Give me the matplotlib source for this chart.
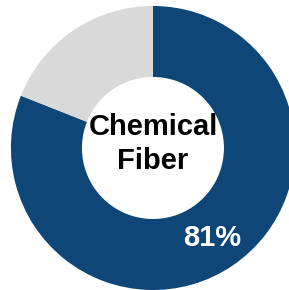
import matplotlib
matplotlib.use('Agg')
import matplotlib.pyplot as plt

labels = ['Chemical Fiber', 'Other']
shares = [81, 19]
colors = ['#0D4677', '#D9D9D9']

plt.rcParams['font.family'] = ['Liberation Sans', 'DejaVu Sans']

fig = plt.figure(figsize=(2.89, 2.90), dpi=100)
ax = fig.add_axes([0, 0, 1, 1])

ax.pie(shares, colors=colors, startangle=90, counterclock=False,
       radius=1.0, wedgeprops=dict(width=0.5, edgecolor='none'))

ax.text(0.0, 0.15, 'Chemical', ha='center', va='center',
        fontsize=21, fontweight='bold', color='black')
ax.text(0.0, -0.09, 'Fiber', ha='center', va='center',
        fontsize=21, fontweight='bold', color='black')
ax.text(0.415, -0.634, '%d%%' % shares[0], ha='center', va='center',
        fontsize=21, fontweight='bold', color='white')

ax.set_xlim(-1.077, 0.958)
ax.set_ylim(-1.0, 1.042)
ax.set_aspect('auto')
ax.axis('off')

plt.savefig('out.png', dpi=100)
